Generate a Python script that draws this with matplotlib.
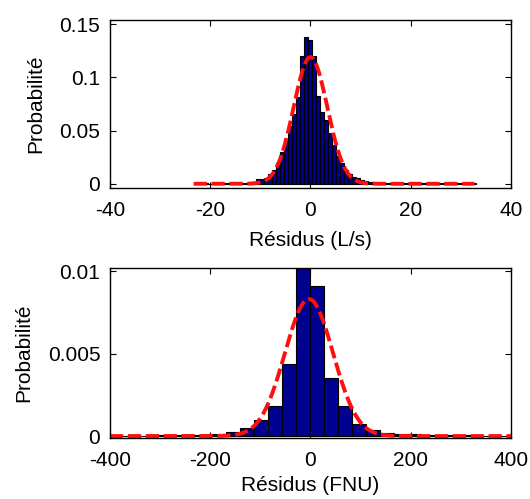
import numpy as np
import matplotlib
matplotlib.use('Agg')
import matplotlib.pyplot as plt
from matplotlib.ticker import FuncFormatter

plt.rcParams['font.family'] = ['Liberation Sans', 'DejaVu Sans']
plt.rcParams['axes.unicode_minus'] = False

# --- top panel: residuals of flow (L/s), bin width 0.8
q_edge0 = -22.1
q_width = 0.8
q_heights = [0.0003, 0.0003, 0.0, 0.0003, 0.0008, 0.0003, 0.0003, 0.0003, 0.0005, 0.0005,
             0.0005, 0.0005, 0.001, 0.002, 0.0045, 0.0048, 0.005, 0.009, 0.013, 0.02,
             0.03, 0.042, 0.054, 0.066, 0.082, 0.12, 0.138, 0.135, 0.12, 0.083,
             0.0675, 0.06, 0.048, 0.036, 0.026, 0.02, 0.013, 0.009, 0.006, 0.005,
             0.004, 0.003, 0.002, 0.001, 0.001, 0.0008, 0.0005, 0.0005, 0.0005, 0.0005,
             0.0003, 0.0003, 0.0003, 0.0005, 0.0003, 0.0003, 0.0003, 0.0003, 0.0003, 0.0003,
             0.0003, 0.0003, 0.0003, 0.0003, 0.0003, 0.0003, 0.0003, 0.0003, 0.0003]
q_mu, q_sigma = 0.0, 3.35
q_range = (-23.3, 32.7)

# --- bottom panel: residuals of turbidity (FNU), bin width 28
t_edge0 = -393
t_width = 28
t_heights = [0.00003, 0.00003, 0.00003, 0.00005, 0.00005, 0.00006, 0.00008, 0.0001,
             0.00022, 0.00047, 0.00097, 0.00182, 0.00435, 0.0102, 0.00909, 0.0035,
             0.00182, 0.00073, 0.00036, 0.0002, 0.0001, 0.0001, 0.00006, 0.00005,
             0.00004, 0.00004, 0.00003, 0.00003, 0.00003]
t_mu, t_sigma = -3.0, 48.0
t_range = (-400, 400)


def gauss(x, mu, s):
    return np.exp(-0.5 * ((x - mu) / s) ** 2) / (s * np.sqrt(2 * np.pi))


def panel(ax, edge0, width, heights, mu, sigma, xr, xlim, ylim, yticks, xlabel, xpad):
    h = np.array(heights)
    left = edge0 + width * np.arange(len(h))
    ax.bar(left, h, width=width, align='edge', color='#000090',
           edgecolor='black', linewidth=0.8)
    xs = np.linspace(xr[0], xr[1], 400)
    ax.plot(xs, gauss(xs, mu, sigma), color='#ff1010', lw=2.8,
            linestyle=(0, (3.4, 1.2)))
    ax.set_xlim(*xlim)
    ax.set_ylim(*ylim)
    ax.set_yticks(yticks)
    ax.yaxis.set_major_formatter(FuncFormatter(lambda v, p: '%g' % v))
    ax.tick_params(direction='in', length=4, top=True, right=True, labelsize=15)
    ax.tick_params(axis='x', pad=9)
    ax.tick_params(axis='y', pad=7)
    ax.set_xlabel(xlabel, fontsize=15, labelpad=xpad)
    ax.set_ylabel('Probabilité', fontsize=15, labelpad=10)
    for s in ax.spines.values():
        s.set_linewidth(1.0)


fig = plt.figure(figsize=(5.30, 4.99), dpi=100)
ax1 = fig.add_axes([0.2075, 0.6232, 0.7566, 0.3367])
ax2 = fig.add_axes([0.2075, 0.1222, 0.7566, 0.3407])

panel(ax1, q_edge0, q_width, q_heights, q_mu, q_sigma, q_range,
      (-40, 40), (-0.004, 0.154), [0, 0.05, 0.1, 0.15], 'Résidus (L/s)', 8)
ax1.set_xticks([-40, -20, 0, 20, 40])

panel(ax2, t_edge0, t_width, t_heights, t_mu, t_sigma, t_range,
      (-400, 400), (-0.00012, 0.0102), [0, 0.005, 0.01], 'Résidus (FNU)', 5)
ax2.set_xticks([-400, -200, 0, 200, 400])

fig.savefig('out.png', dpi=100)
